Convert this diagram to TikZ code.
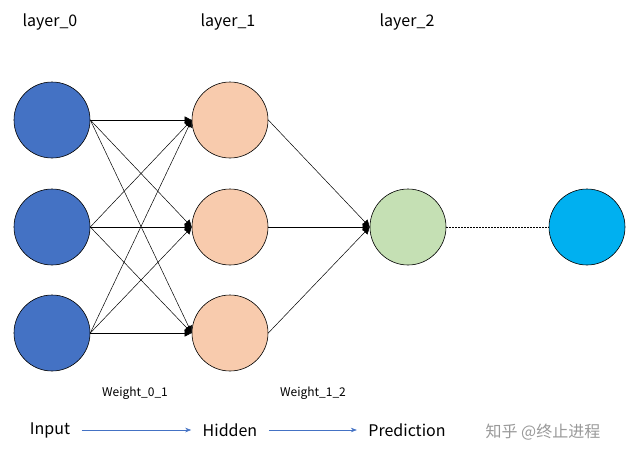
\documentclass[tikz,border=0pt]{standalone}
\usepackage{fontspec}
\setmainfont{Noto Sans CJK SC}
\usetikzlibrary{arrows.meta}
\begin{document}
\begin{tikzpicture}[x=1pt,y=-1pt,
  neuron/.style={circle,draw=black,line width=0.6pt,minimum size=76pt,inner sep=0pt},
  conn/.style={line width=0.5pt,-{Triangle[length=7pt,width=7pt]}},
  lbl/.style={font=\fontsize{16}{18}\selectfont},
  small/.style={font=\fontsize{12}{14}\selectfont},
  flow/.style={draw={rgb,255:red,68;green,114;blue,196},line width=0.6pt,-{Stealth[length=6pt]}}]
\useasboundingbox (0,0) rectangle (626,458);
\definecolor{dblue}{RGB}{68,114,196}
\definecolor{peach}{RGB}{248,203,173}
\definecolor{lgreen}{RGB}{197,224,180}
\definecolor{cyan}{RGB}{0,176,240}
\node[neuron,fill=dblue] (a0) at (52,120) {};
\node[neuron,fill=dblue] (a1) at (52,227) {};
\node[neuron,fill=dblue] (a2) at (52,333) {};
\node[neuron,fill=peach] (b0) at (230,120) {};
\node[neuron,fill=peach] (b1) at (230,227) {};
\node[neuron,fill=peach] (b2) at (230,333) {};
\node[neuron,fill=lgreen] (c) at (408,227) {};
\node[neuron,fill=cyan] (d) at (587,227) {};
\foreach \i in {0,1,2}{\foreach \j in {0,1,2}{\draw[conn] (a\i.east) -- (b\j.west);}}
\foreach \j in {0,1,2}{\draw[conn] (b\j.east) -- (c.west);}
\draw[dashed,dash pattern=on 2pt off 1pt,line width=0.5pt] (c.east) -- (d.west);
\node[lbl] (l0) at (50,22) {layer\_0};
\node[lbl] (l1) at (228,22) {layer\_1};
\node[lbl] (l2) at (407,22) {layer\_2};
\node[small] (w1) at (135,393) {Weight\_0\_1};
\node[small] (w2) at (313,393) {Weight\_1\_2};
\node[lbl] (in) at (50,430) {Input};
\node[lbl] (hid) at (230,430) {Hidden};
\node[lbl] (pred) at (407,430) {Prediction};
\draw[flow] (in.east) ++(8,0) coordinate (f1) -- ([xshift=-8]hid.west);
\draw[flow] (hid.east) ++(8,0) coordinate (f2) -- ([xshift=-8]pred.west);
\node[lbl,text=gray!80] (wm) at (543,432) {知乎 @终止进程};
\end{tikzpicture}
\end{document}
